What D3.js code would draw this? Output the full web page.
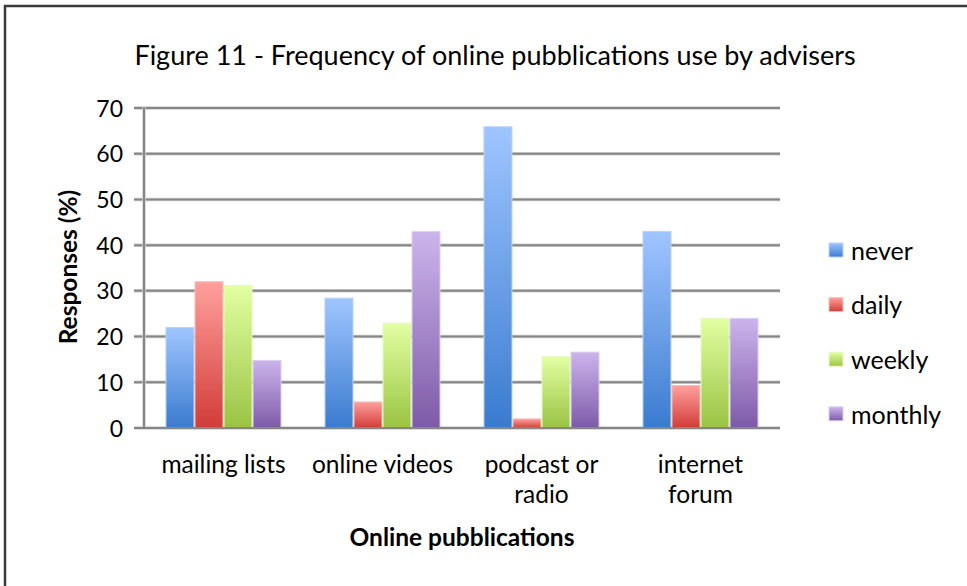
<!DOCTYPE html>
<html>
<head>
<meta charset="utf-8">
<script src="https://cdn.jsdelivr.net/npm/d3@7"></script>
<style>
  html, body { margin: 0; padding: 0; background: #fff; }
  svg { display: block; font-family: Lato, "Open Sans", sans-serif; }
</style>
</head>
<body>
<svg id="chart" width="967" height="586"></svg>
<script>
// Categories, series and their values (% of responses)
const categories = ["mailing lists", "online videos", "podcast or radio", "internet forum"];
const categoryLines = [["mailing lists"], ["online videos"], ["podcast or", "radio"], ["internet", "forum"]];
const seriesNames = ["never", "daily", "weekly", "monthly"];
const never   = [22.0, 28.4, 65.9, 43.0];
const daily   = [32.0, 5.7, 2.0, 9.3];
const weekly  = [31.2, 22.9, 15.6, 24.0];
const monthly = [14.8, 43.0, 16.6, 24.0];
const yTicks = [0, 10, 20, 30, 40, 50, 60, 70];

const seriesValues = [never, daily, weekly, monthly];
// gradient stops per series: [top, bottom, outline]
const seriesColors = [
  ["#9fc5ff", "#3a7bcf", "#b9d3f8"],
  ["#ffa09d", "#d13c38", "#f7c0bd"],
  ["#e2ffa2", "#9ac343", "#e8f7c4"],
  ["#ccb4ec", "#7d5aa7", "#ddd0ef"]
];

const svg = d3.select("#chart");
const margin = { left: 144, right: 780, top: 108, bottom: 428 };

// chart frame
svg.append("rect").attr("x", 5).attr("y", 6).attr("width", 980).attr("height", 600)
  .attr("fill", "#fff").attr("stroke", "#3a3a3a").attr("stroke-width", 2.5);

const defs = svg.append("defs");
seriesColors.forEach((c, i) => {
  const g = defs.append("linearGradient").attr("id", "grad" + i)
    .attr("x1", 0).attr("y1", 0).attr("x2", 0).attr("y2", 1);
  g.append("stop").attr("offset", "0%").attr("stop-color", c[0]);
  g.append("stop").attr("offset", "100%").attr("stop-color", c[1]);
});

const x0 = d3.scaleBand().domain(categories).range([margin.left, margin.right]).paddingInner(0.27).paddingOuter(0.135);
const x1 = d3.scaleBand().domain(seriesNames).range([0, x0.bandwidth()]);
const y = d3.scaleLinear().domain([0, 70]).range([margin.bottom, margin.top]);

// gridlines
const grid = svg.append("g");
yTicks.forEach(t => {
  grid.append("line").attr("x1", margin.left - 10).attr("x2", margin.right)
    .attr("y1", y(t)).attr("y2", y(t)).attr("stroke", "#d0d0d0").attr("stroke-width", 3.5);
  grid.append("line").attr("x1", margin.left - 10).attr("x2", margin.right)
    .attr("y1", y(t)).attr("y2", y(t)).attr("stroke", "#868686").attr("stroke-width", 2);
});

// y axis line
svg.append("line").attr("x1", margin.left).attr("x2", margin.left)
  .attr("y1", margin.top - 1).attr("y2", margin.bottom + 1)
  .attr("stroke", "#d0d0d0").attr("stroke-width", 3.5);
svg.append("line").attr("x1", margin.left).attr("x2", margin.left)
  .attr("y1", margin.top - 1).attr("y2", margin.bottom + 1)
  .attr("stroke", "#868686").attr("stroke-width", 2);

// y tick labels
const yAxis = d3.axisLeft(y).tickValues(yTicks).tickSize(0).tickPadding(0);
const yg = svg.append("g").attr("transform", `translate(${margin.left - 21},0)`).call(yAxis);
yg.select(".domain").remove();
yg.selectAll("text").attr("font-size", 23).attr("fill", "#000").attr("dy", "0.35em")
  .attr("font-family", "Lato, sans-serif");

// bars
const groups = svg.append("g").selectAll("g").data(categories).join("g")
  .attr("transform", d => `translate(${x0(d)},0)`);
groups.selectAll("rect").data((d, ci) => seriesNames.map((s, si) => ({ s, si, v: seriesValues[si][ci] })))
  .join("rect")
  .attr("x", d => x1(d.s) + 0.5)
  .attr("width", x1.bandwidth() - 1)
  .attr("y", d => y(d.v))
  .attr("height", d => y(0) - y(d.v))
  .attr("fill", d => `url(#grad${d.si})`)
  .attr("stroke", d => seriesColors[d.si][2])
  .attr("stroke-width", 1);

// x axis line over the bar bases
svg.append("line").attr("x1", margin.left - 10).attr("x2", margin.right)
  .attr("y1", y(0)).attr("y2", y(0)).attr("stroke", "#868686").attr("stroke-width", 2);

// category labels
const xl = svg.append("g");
categories.forEach((c, i) => {
  const cx = x0(c) + x0.bandwidth() / 2;
  const t = xl.append("text").attr("text-anchor", "middle").attr("font-size", 24.5)
    .attr("x", cx).attr("y", 473);
  categoryLines[i].forEach((line, li) => {
    t.append("tspan").attr("x", cx).attr("dy", li === 0 ? 0 : 30).text(line);
  });
});

// titles
svg.append("text").attr("x", 495).attr("y", 65).attr("text-anchor", "middle")
  .attr("font-size", 27).text("Figure 11 - Frequency of online pubblications use by advisers");
svg.append("text").attr("x", 462).attr("y", 546).attr("text-anchor", "middle")
  .attr("font-size", 24.5).attr("font-weight", "bold").text("Online pubblications");
svg.append("text").attr("transform", `translate(77,267) rotate(-90)`).attr("text-anchor", "middle")
  .attr("font-size", 24.5).attr("font-weight", "bold").text("Responses (%)");

// legend
const lg = svg.append("g").selectAll("g").data(seriesNames).join("g")
  .attr("transform", (d, i) => `translate(829,${243 + i * 54.6})`);
lg.append("rect").attr("width", 14).attr("height", 14)
  .attr("fill", (d, i) => `url(#grad${i})`).attr("stroke", (d, i) => seriesColors[i][2]).attr("stroke-width", 1);
lg.append("text").attr("x", 22).attr("y", 8).attr("dy", "0.35em").attr("font-size", 25).text(d => d);
</script>
</body>
</html>
